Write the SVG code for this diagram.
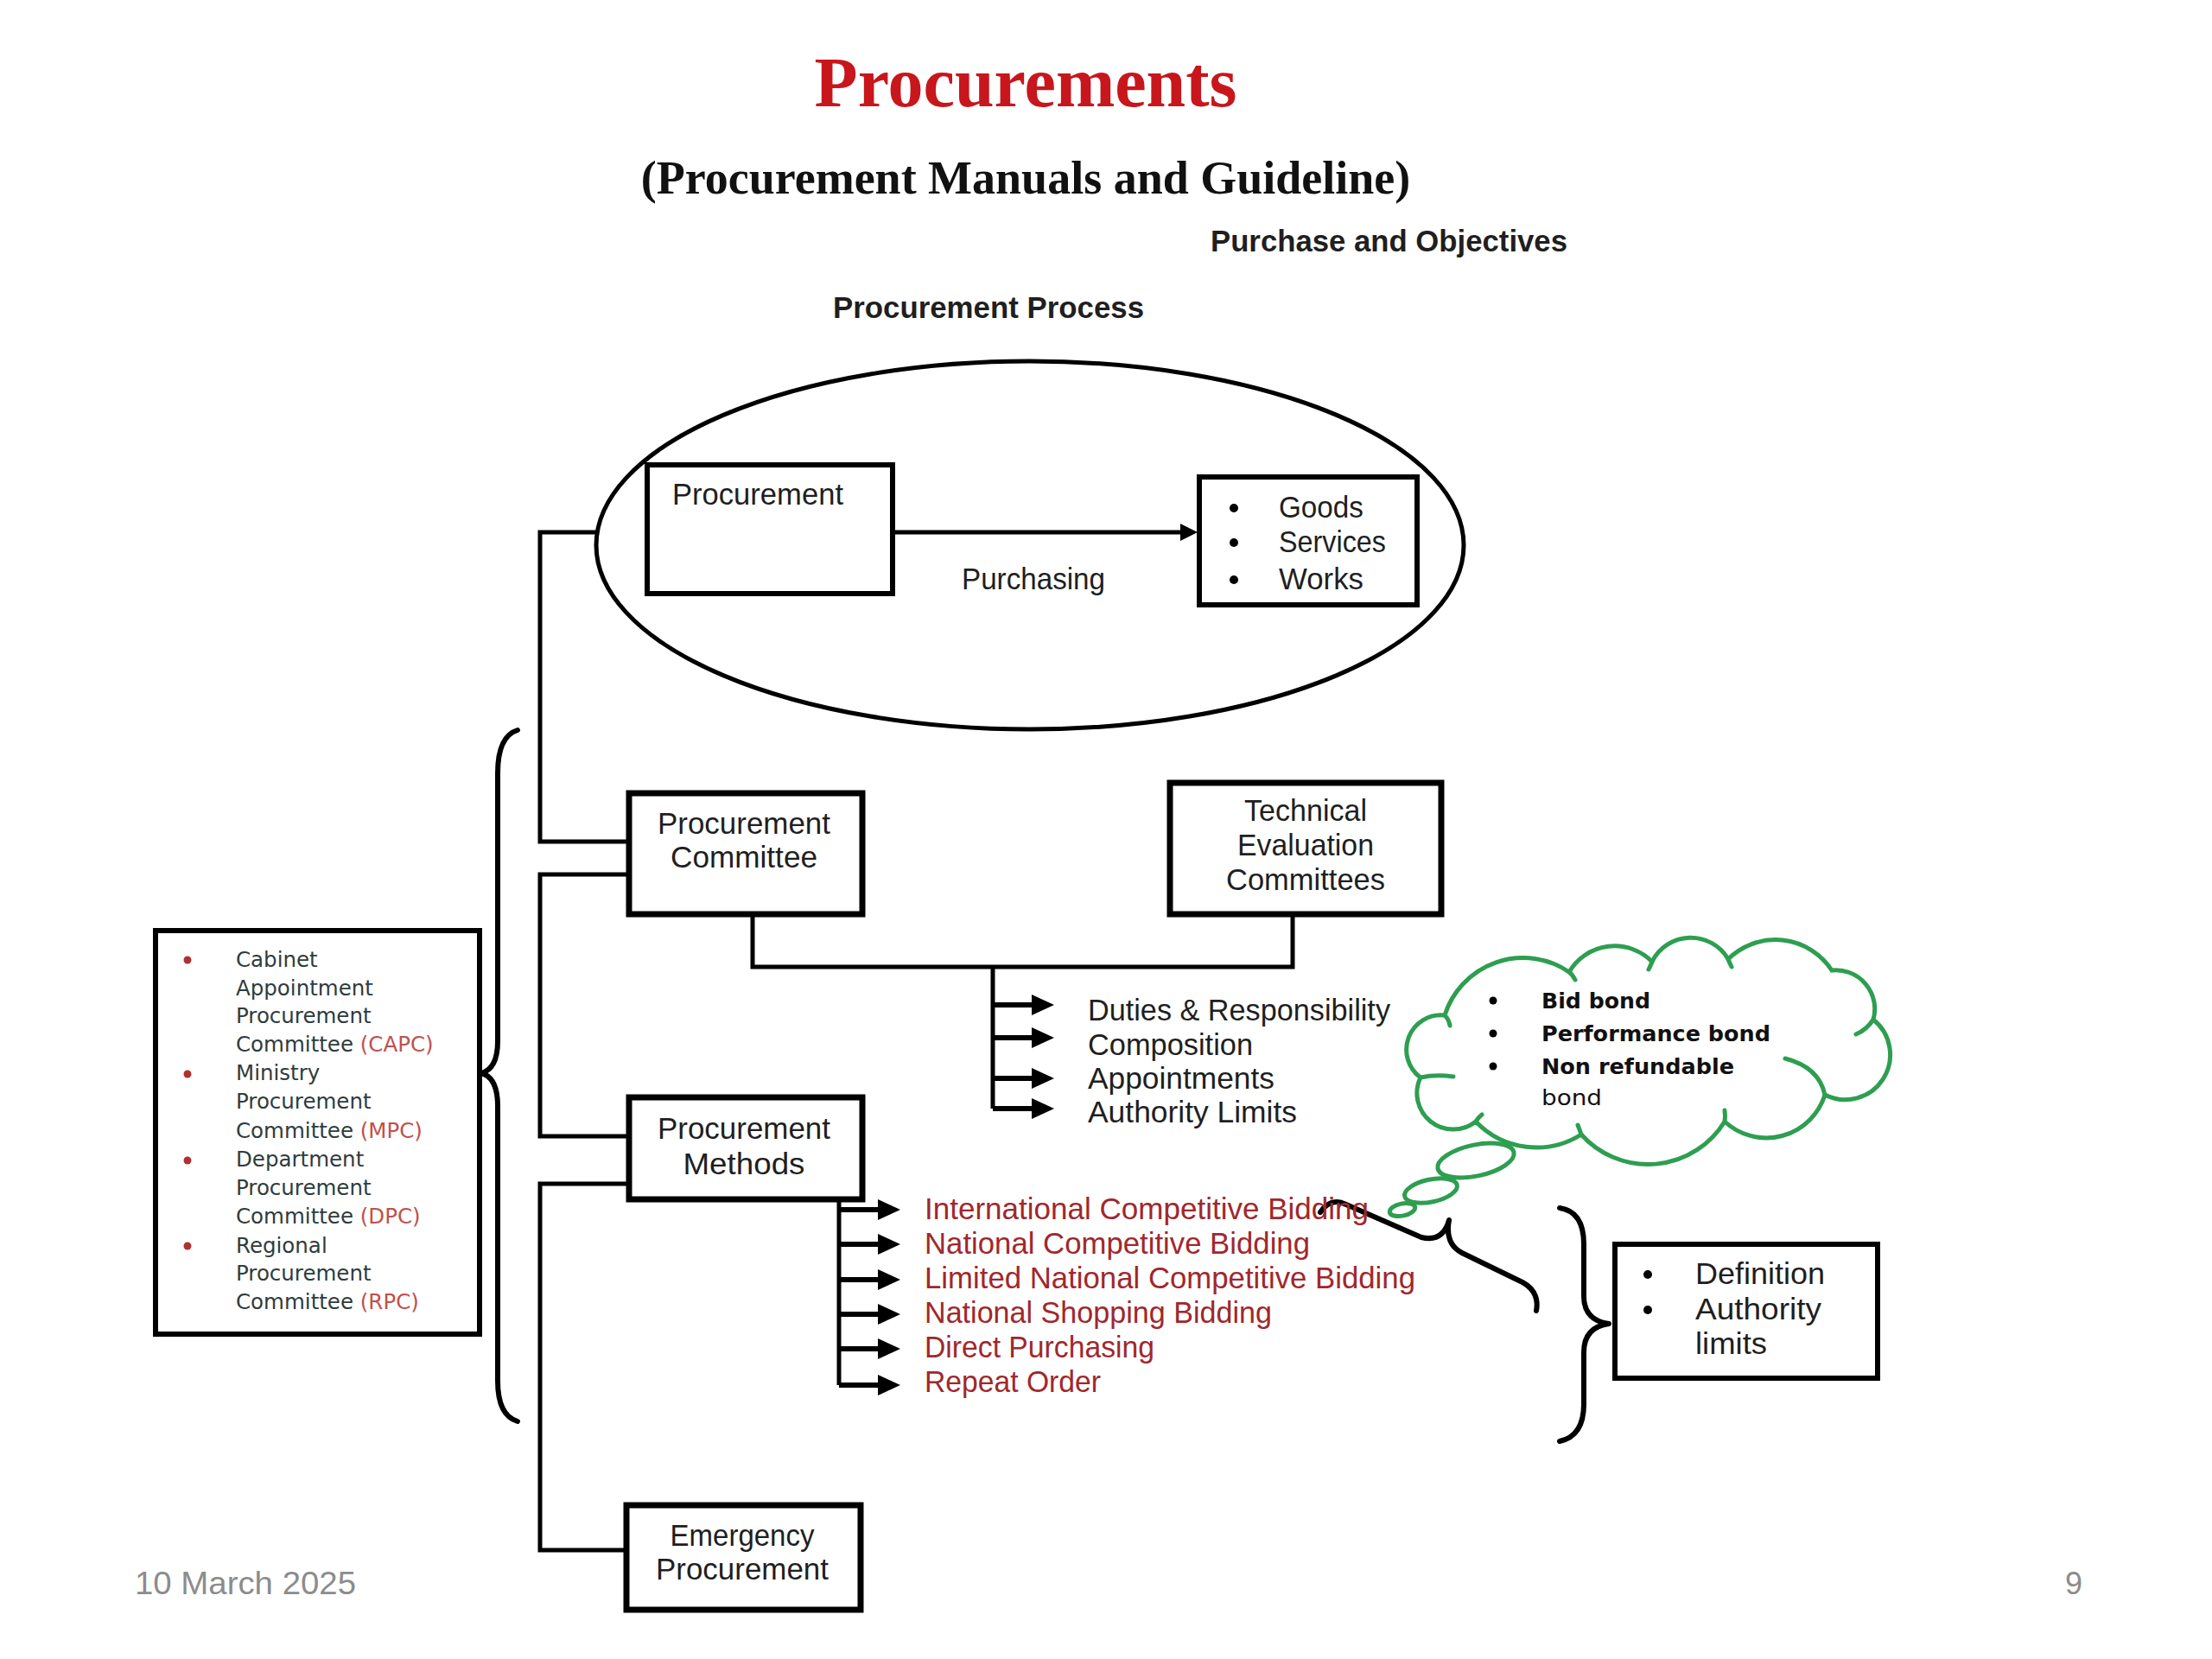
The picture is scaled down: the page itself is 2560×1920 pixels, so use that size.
<svg xmlns="http://www.w3.org/2000/svg" width="2560" height="1920" viewBox="0 0 2560 1920">
<defs>
<style>
.box{fill:#fff;stroke:#000;stroke-width:7}
.box2{fill:#fff;stroke:#000;stroke-width:6}
.ln{fill:none;stroke:#000;stroke-width:5}
.ar{fill:none;stroke:#000;stroke-width:6}
.br{fill:none;stroke:#000;stroke-width:6;stroke-linecap:round;stroke-linejoin:round}
.t{font-family:"Liberation Sans",Arial,sans-serif;font-size:35px;fill:#1f1f1f}
.c{text-anchor:middle}
.red{fill:#A0282C}
.lb{font-family:"DejaVu Sans",Verdana,sans-serif;font-size:24.5px;fill:#2F3C3C}
.ac{fill:#C0504D}
.cl{font-family:"DejaVu Sans",Verdana,sans-serif;font-size:25px;fill:#111}
.b{font-weight:bold}
.cloud{fill:#fff;stroke:#2E9E50;stroke-width:5}
.hook{fill:none;stroke:#2E9E50;stroke-width:5;stroke-linecap:round}
.dot{fill:#000}
.rdot{fill:#B03030}
.ft{font-family:"Liberation Sans",Arial,sans-serif;font-size:36px;fill:#8c8c8c}
</style>
<marker id="ah" markerUnits="userSpaceOnUse" viewBox="0 0 26 24" markerWidth="26" markerHeight="24" refX="1" refY="12" orient="auto"><path d="M0,0 L26,12 L0,24 Z" fill="#000"/></marker>
<marker id="ahs" markerUnits="userSpaceOnUse" viewBox="0 0 20 20" markerWidth="20" markerHeight="20" refX="1" refY="10" orient="auto"><path d="M0,0 L20,10 L0,20 Z" fill="#000"/></marker>
</defs>
<rect x="0" y="0" width="2560" height="1920" fill="#fff"/>

<g id="titles">
<text x="1187" y="123" text-anchor="middle" font-family="'Liberation Serif','Times New Roman',serif" font-weight="bold" font-size="82" fill="#C8161D">Procurements</text>
<text x="1187" y="224" text-anchor="middle" font-family="'Liberation Serif','Times New Roman',serif" font-weight="bold" font-size="54" fill="#111">(Procurement Manuals and Guideline)</text>
<text class="t b" x="1401" y="291" textLength="413" lengthAdjust="spacingAndGlyphs">Purchase and Objectives</text>
<text class="t b" x="964" y="368" textLength="360" lengthAdjust="spacingAndGlyphs">Procurement Process</text>
</g>

<g id="scope-ellipse">
<ellipse cx="1192" cy="631" rx="502" ry="213" fill="#fff" stroke="#000" stroke-width="5"/>
</g>

<g id="connectors">
<path class="ln" d="M690,616 H625 V974 H728"/>
<path class="ln" d="M728,1012 H625 V1315 H728"/>
<path class="ln" d="M728,1370 H625 V1794 H725"/>
<path class="ln" d="M871,1058 V1119 H1496 V1058"/>
<path class="ln" d="M1149,1119 V1283"/>
<path class="ar" d="M1149,1163 H1195" marker-end="url(#ah)"/>
<path class="ar" d="M1149,1201 H1195" marker-end="url(#ah)"/>
<path class="ar" d="M1149,1248 H1195" marker-end="url(#ah)"/>
<path class="ar" d="M1149,1283 H1195" marker-end="url(#ah)"/>
<path class="ln" d="M971,1388 V1603"/>
<path class="ar" d="M971,1400 H1017" marker-end="url(#ah)"/>
<path class="ar" d="M971,1440 H1017" marker-end="url(#ah)"/>
<path class="ar" d="M971,1481 H1017" marker-end="url(#ah)"/>
<path class="ar" d="M971,1521 H1017" marker-end="url(#ah)"/>
<path class="ar" d="M971,1561 H1017" marker-end="url(#ah)"/>
<path class="ar" d="M971,1603 H1017" marker-end="url(#ah)"/>
<path class="ln" d="M1033,616 H1367" marker-end="url(#ahs)"/>
<path class="br" d="M599,845 Q576,852 576,895 L576,1205 Q576,1237 557,1242 Q576,1247 576,1280 L576,1598 Q576,1638 599,1645"/>
<path class="br" d="M1805,1398 Q1833,1402 1833,1440 L1833,1500 Q1833,1528 1862,1532 Q1833,1536 1833,1565 L1833,1625 Q1833,1662 1805,1668"/>
<path class="br" d="M1528,1403 Q1540,1385 1558,1394 L1645,1432 Q1670,1438 1677,1412 Q1672,1440 1692,1450 L1762,1484 Q1782,1495 1778,1517"/>
</g>

<g id="node-procurement">
<rect class="box2" x="749" y="538" width="284" height="149"/>
<text class="t" x="778" y="584" textLength="198" lengthAdjust="spacingAndGlyphs">Procurement</text>
</g>
<text class="t" x="1113" y="682" textLength="166" lengthAdjust="spacingAndGlyphs">Purchasing</text>

<g id="node-goods">
<rect class="box2" x="1388" y="552" width="252" height="148"/>
<circle class="dot" cx="1428" cy="588" r="5"/>
<circle class="dot" cx="1428" cy="628" r="5"/>
<circle class="dot" cx="1428" cy="671" r="5"/>
<text class="t" x="1480" y="599" textLength="98" lengthAdjust="spacingAndGlyphs">Goods</text>
<text class="t" x="1480" y="639" textLength="124" lengthAdjust="spacingAndGlyphs">Services</text>
<text class="t" x="1480" y="682" textLength="98" lengthAdjust="spacingAndGlyphs">Works</text>
</g>

<g id="node-committee">
<rect class="box" x="728" y="918" width="270" height="140"/>
<text class="t c" x="861" y="965" textLength="200" lengthAdjust="spacingAndGlyphs">Procurement</text>
<text class="t c" x="861" y="1004" textLength="170" lengthAdjust="spacingAndGlyphs">Committee</text>
</g>

<g id="node-tec">
<rect class="box" x="1354" y="906" width="314" height="152"/>
<text class="t c" x="1511" y="950" textLength="142" lengthAdjust="spacingAndGlyphs">Technical</text>
<text class="t c" x="1511" y="990" textLength="158" lengthAdjust="spacingAndGlyphs">Evaluation</text>
<text class="t c" x="1511" y="1030" textLength="184" lengthAdjust="spacingAndGlyphs">Committees</text>
</g>

<g id="node-duties">
<text class="t" x="1259" y="1181" textLength="350" lengthAdjust="spacingAndGlyphs">Duties &amp; Responsibility</text>
<text class="t" x="1259" y="1221" textLength="191" lengthAdjust="spacingAndGlyphs">Composition</text>
<text class="t" x="1259" y="1260" textLength="216" lengthAdjust="spacingAndGlyphs">Appointments</text>
<text class="t" x="1259" y="1299" textLength="242" lengthAdjust="spacingAndGlyphs">Authority Limits</text>
</g>

<g id="node-methods">
<rect class="box" x="728" y="1270" width="270" height="118"/>
<text class="t c" x="861" y="1318" textLength="200" lengthAdjust="spacingAndGlyphs">Procurement</text>
<text class="t c" x="861" y="1359" textLength="141" lengthAdjust="spacingAndGlyphs">Methods</text>
</g>

<g id="node-method-list">
<text class="t red" x="1070" y="1411" textLength="514" lengthAdjust="spacingAndGlyphs">International Competitive Bidding</text>
<text class="t red" x="1070" y="1451" textLength="446" lengthAdjust="spacingAndGlyphs">National Competitive Bidding</text>
<text class="t red" x="1070" y="1491" textLength="568" lengthAdjust="spacingAndGlyphs">Limited National Competitive Bidding</text>
<text class="t red" x="1070" y="1531" textLength="402" lengthAdjust="spacingAndGlyphs">National Shopping Bidding</text>
<text class="t red" x="1070" y="1571" textLength="266" lengthAdjust="spacingAndGlyphs">Direct Purchasing</text>
<text class="t red" x="1070" y="1611" textLength="204" lengthAdjust="spacingAndGlyphs">Repeat Order</text>
</g>

<g id="node-definition">
<rect class="box2" x="1869" y="1440" width="304" height="155"/>
<circle class="dot" cx="1907" cy="1475" r="5"/>
<circle class="dot" cx="1907" cy="1516" r="5"/>
<text class="t" x="1962" y="1486" textLength="150" lengthAdjust="spacingAndGlyphs">Definition</text>
<text class="t" x="1962" y="1527" textLength="146" lengthAdjust="spacingAndGlyphs">Authority</text>
<text class="t" x="1962" y="1567" textLength="83" lengthAdjust="spacingAndGlyphs">limits</text>
</g>

<g id="node-emergency">
<rect class="box" x="725" y="1742" width="271" height="121"/>
<text class="t c" x="859" y="1789" textLength="167" lengthAdjust="spacingAndGlyphs">Emergency</text>
<text class="t c" x="859" y="1828" textLength="200" lengthAdjust="spacingAndGlyphs">Procurement</text>
</g>

<g id="node-committee-levels">
<rect class="box2" x="180" y="1077" width="375" height="467"/>
<circle class="rdot" cx="217" cy="1111" r="4.5"/>
<circle class="rdot" cx="217" cy="1243" r="4.5"/>
<circle class="rdot" cx="217" cy="1343" r="4.5"/>
<circle class="rdot" cx="217" cy="1442" r="4.5"/>
<text class="lb" x="273" y="1119">Cabinet</text>
<text class="lb" x="273" y="1152">Appointment</text>
<text class="lb" x="273" y="1184">Procurement</text>
<text class="lb" x="273" y="1217">Committee <tspan class="ac">(CAPC)</tspan></text>
<text class="lb" x="273" y="1250">Ministry</text>
<text class="lb" x="273" y="1283">Procurement</text>
<text class="lb" x="273" y="1317">Committee <tspan class="ac">(MPC)</tspan></text>
<text class="lb" x="273" y="1350">Department</text>
<text class="lb" x="273" y="1383">Procurement</text>
<text class="lb" x="273" y="1416">Committee <tspan class="ac">(DPC)</tspan></text>
<text class="lb" x="273" y="1450">Regional</text>
<text class="lb" x="273" y="1482">Procurement</text>
<text class="lb" x="273" y="1515">Committee <tspan class="ac">(RPC)</tspan></text>
</g>

<g id="node-bonds-cloud">
<path class="cloud" d="M1644,1247 A40,40 0 0 1 1672,1175 A95,95 0 0 1 1816,1125 A61,61 0 0 1 1912,1113 A50,50 0 0 1 2000,1110 A78,78 0 0 1 2120,1123 A45,45 0 0 1 2168,1180 A52,52 0 0 1 2112,1267 A71,71 0 0 1 1996,1298 A104,104 0 0 1 1830,1313 A97,97 0 0 1 1708,1298 A42,42 0 0 1 1644,1247 Z"/>
<path class="hook" d="M1644,1247 Q1662,1243 1682,1246"/>
<path class="hook" d="M1672,1175 Q1677,1180 1678,1187"/>
<path class="hook" d="M1816,1125 Q1820,1128 1823,1134"/>
<path class="hook" d="M1912,1113 Q1910,1118 1908,1122"/>
<path class="hook" d="M2000,1110 Q2002,1115 2004,1119"/>
<path class="hook" d="M2168,1180 Q2160,1192 2148,1197"/>
<path class="hook" d="M2066,1225 Q2105,1235 2112,1267"/>
<path class="hook" d="M1996,1298 Q1997,1292 1996,1285"/>
<path class="hook" d="M1830,1313 Q1828,1307 1826,1302"/>
<path class="hook" d="M1708,1298 Q1711,1293 1715,1290"/>
<ellipse class="cloud" cx="1708" cy="1343" rx="45" ry="18" transform="rotate(-12 1708 1343)"/>
<ellipse class="cloud" cx="1656" cy="1378" rx="31" ry="13" transform="rotate(-12 1656 1378)"/>
<ellipse class="cloud" cx="1623" cy="1400" rx="15" ry="7" transform="rotate(-12 1623 1400)"/>
<circle class="dot" cx="1728" cy="1158" r="4.5"/>
<circle class="dot" cx="1728" cy="1196" r="4.5"/>
<circle class="dot" cx="1728" cy="1234" r="4.5"/>
<text class="cl b" x="1784" y="1167" textLength="126" lengthAdjust="spacingAndGlyphs">Bid bond</text>
<text class="cl b" x="1784" y="1205" textLength="265" lengthAdjust="spacingAndGlyphs">Performance bond</text>
<text class="cl b" x="1784" y="1243" textLength="223" lengthAdjust="spacingAndGlyphs">Non refundable</text>
<text class="cl" x="1784" y="1279" textLength="70" lengthAdjust="spacingAndGlyphs">bond</text>
</g>

<g id="footer">
<text class="ft" x="156" y="1845" textLength="256" lengthAdjust="spacingAndGlyphs">10 March 2025</text>
<text class="ft" x="2390" y="1845">9</text>
</g>
</svg>
